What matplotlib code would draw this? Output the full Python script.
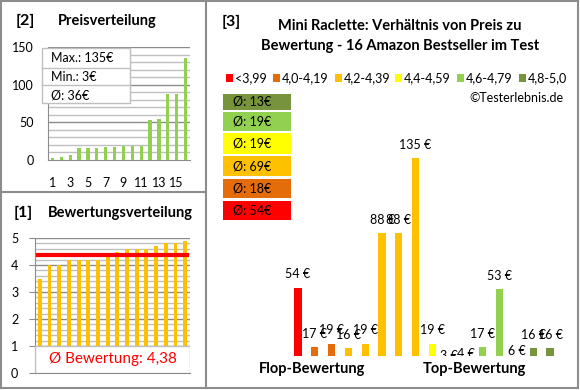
import matplotlib.pyplot as plt
from matplotlib.patches import Rectangle
from matplotlib.lines import Line2D
from matplotlib.transforms import Bbox

plt.rcParams['font.family'] = ['Lato', 'DejaVu Sans']

# data
prices = [54, 17, 19, 16, 19, 88, 88, 135, 19, 3, 4, 17, 53, 6, 16, 16]
price_cls = [0, 1, 1, 2, 2, 2, 2, 2, 3, 4, 4, 4, 4, 5, 5, 5]
ratings_sorted = [3.5, 4.0, 4.0, 4.2, 4.2, 4.2, 4.2, 4.3, 4.5, 4.6, 4.6, 4.6, 4.7, 4.8, 4.8, 4.9]
prices_sorted = sorted(prices)
avg_rating = 4.38
cls_labels = ['<3,99', '4,0-4,19', '4,2-4,39', '4,4-4,59', '4,6-4,79', '4,8-5,0']
cls_colors = ['#FF0000', '#E46C0A', '#FFC000', '#FFFF00', '#92D050', '#77933C']
cls_avg = ['54€', '18€', '69€', '19€', '19€', '13€']

W, H = 580, 390
fig = plt.figure(figsize=(W / 100, H / 100), dpi=100)


def px_axes(l, t, r, b):
    return fig.add_axes([l / W, 1 - b / H, (r - l) / W, (b - t) / H])


def fx(x):
    return x / W


def fy(y):
    return 1 - y / H


def line(x0, y0, x1, y1):
    fig.add_artist(Line2D([fx(x0), fx(x1)], [fy(y0), fy(y1)], color='#8C8C8C', lw=1.5))


# panel borders
line(1, 1, 578, 1)
line(1, 388, 578, 388)
line(1, 1, 1, 388)
line(578, 1, 578, 388)
line(206, 1, 206, 388)
line(1, 192, 206, 192)

grid_major = '#8C8C8C'
grid_minor = '#BFBFBF'

# ---- [2] Preisverteilung
fig.text(fx(16), fy(21), '[2]', fontsize=11.5, fontweight='bold', va='center')
fig.text(fx(58), fy(21), 'Preisverteilung', fontsize=10.5, fontweight='bold', va='center')
ax2 = px_axes(48, 47, 190, 160)
x2 = list(range(1, 17))
for v in range(10, 151, 10):
    ax2.axhline(v, color=grid_major if v % 50 == 0 else grid_minor, lw=1, zorder=0)
ax2.bar(x2, prices_sorted, width=0.38, color='#92D050', zorder=2)
ax2.set_xlim(0.5, 16.5)
ax2.set_ylim(0, 150)
ax2.set_yticks([0, 50, 100, 150])
ax2.set_xticks([1, 3, 5, 7, 9, 11, 13, 15])
for s in ['top', 'right']:
    ax2.spines[s].set_visible(False)
for s in ['left', 'bottom']:
    ax2.spines[s].set_color(grid_major)
ax2.tick_params(length=0, labelsize=9, pad=10)
ax2.tick_params(axis='x', pad=12)

# info box
fig.add_artist(Rectangle((fx(42), fy(103)), fx(130) - fx(42), fy(48) - fy(103),
                         transform=fig.transFigure, fc='white', ec='#BFBFBF', lw=1))
line_c = '#BFBFBF'
fig.add_artist(Line2D([fx(42), fx(130)], [fy(68), fy(68)], color=line_c, lw=1))
fig.add_artist(Line2D([fx(42), fx(130)], [fy(85), fy(85)], color=line_c, lw=1))
fig.text(fx(51), fy(58), 'Max.: 135€', fontsize=9, va='center')
fig.text(fx(51), fy(77), 'Min.: 3€', fontsize=9, va='center')
fig.text(fx(51), fy(95), 'Ø: 36€', fontsize=9, va='center')

# ---- [1] Bewertungsverteilung
fig.text(fx(14), fy(213), '[1]', fontsize=11.5, fontweight='bold', va='center')
fig.text(fx(48), fy(213), 'Bewertungsverteilung', fontsize=10.5, fontweight='bold', va='center')
ax1 = px_axes(35, 238, 190, 373)
for i in range(1, 26):
    v = i * 0.2
    ax1.axhline(v, color=grid_major if i % 5 == 0 else grid_minor, lw=1, zorder=0)
ax1.bar(x2, ratings_sorted, width=0.4, color='#FFC000', zorder=2)
ax1.plot([0.85, 16.2], [avg_rating, avg_rating], color='#FF0000', lw=3, zorder=3)
ax1.set_xlim(0.5, 16.5)
ax1.set_ylim(0, 5)
ax1.set_yticks(range(6))
ax1.set_xticks([])
for s in ['top', 'right']:
    ax1.spines[s].set_visible(False)
for s in ['left', 'bottom']:
    ax1.spines[s].set_color(grid_major)
ax1.tick_params(axis='y', length=4, color=grid_major, labelsize=9, pad=8)
ax1.add_patch(Rectangle((0.5, 0), 16, 1.0, fc='white', ec='#BFBFBF', lw=1, zorder=4))
ax1.text(8.5, 0.5, 'Ø Bewertung: 4,38', color='#FF0000', fontsize=11,
         ha='center', va='center', zorder=5)

# ---- [3] main chart
fig.text(fx(222), fy(22), '[3]', fontsize=11.5, fontweight='bold', va='center')
fig.text(fx(400), fy(26), 'Mini Raclette: Verhältnis von Preis zu', fontsize=10.5,
         fontweight='bold', ha='center', va='center')
fig.text(fx(400), fy(46), 'Bewertung - 16 Amazon Bestseller im Test', fontsize=10.5,
         fontweight='bold', ha='center', va='center')

leg_x = [226, 273, 335, 395, 457, 519]
for lx, lab, col in zip(leg_x, cls_labels, cls_colors):
    fig.add_artist(Rectangle((fx(lx), fy(81.5)), 7 / W, 7 / H,
                             transform=fig.transFigure, fc=col, ec='none'))
    fig.text(fx(lx + 9), fy(78), lab, fontsize=9, va='center')
fig.text(fx(563), fy(98), '©Testerlebnis.de', fontsize=9, ha='right', va='center')

box_y = [(94, 110), (112, 131), (133, 154), (156, 176), (179, 198), (201, 220)]
for (t, b), col, avg in zip(box_y, cls_colors[::-1], cls_avg[::-1]):
    fig.add_artist(Rectangle((fx(223), fy(b)), fx(291) - fx(223), fy(t) - fy(b),
                             transform=fig.transFigure, fc=col, ec='none'))
    fig.text(fx(233), fy((t + b) / 2), 'Ø: ' + avg, fontsize=9, va='center')

ax3 = px_axes(289.6, 120, 558.4, 356)
x3 = list(range(len(prices)))
ax3.bar(x3, prices, width=0.42, color=[cls_colors[c] for c in price_cls])
# labels are clipped only at the bottom of the plot area (like the original)
clip = Bbox.from_extents(0, (H - 356), W, H)
for xi, p in zip(x3, prices):
    t = ax3.annotate(f'{p} €', (xi, p), xytext=(0, 9.5), textcoords='offset points',
                     ha='center', va='center', fontsize=9, annotation_clip=False)
    t.set_clip_box(clip)
    t.set_clip_on(True)
ax3.set_xlim(-0.5, 15.5)
ax3.set_ylim(11.25, 158.75)
ax3.axis('off')

fig.text(fx(312), fy(369), 'Flop-Bewertung', fontsize=10.5, fontweight='bold', ha='center', va='center')
fig.text(fx(474), fy(369), 'Top-Bewertung', fontsize=10.5, fontweight='bold', ha='center', va='center')

fig.savefig('out.png', dpi=100)
